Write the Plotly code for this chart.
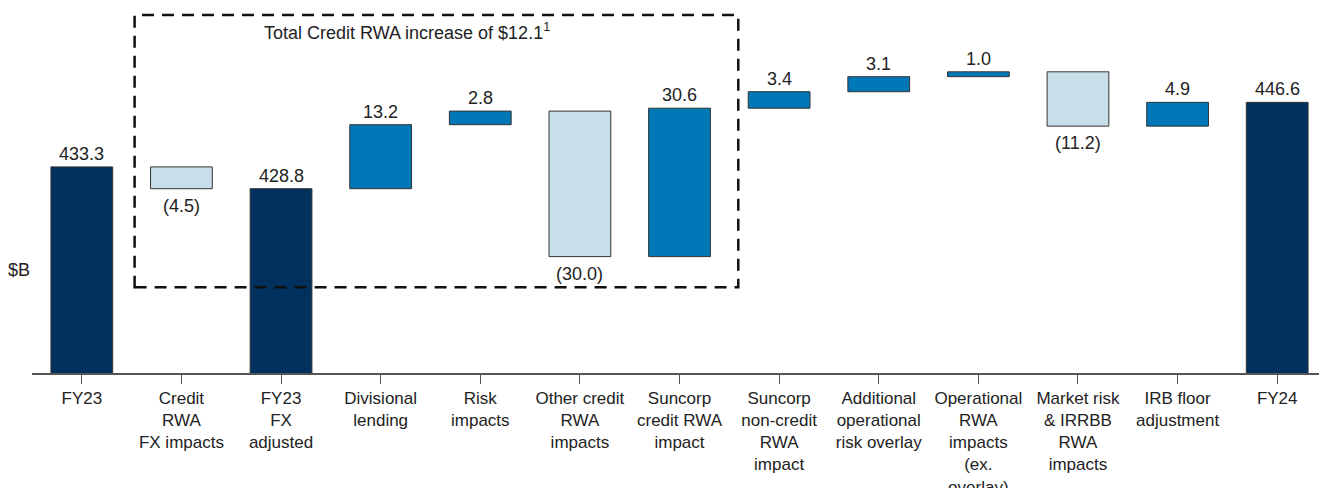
import plotly.graph_objects as go

categories = ["FY23", "Credit<br>RWA<br>FX impacts", "FY23<br>FX<br>adjusted", "Divisional<br>lending",
              "Risk<br>impacts", "Other credit<br>RWA<br>impacts", "Suncorp<br>credit RWA<br>impact",
              "Suncorp<br>non-credit<br>RWA<br>impact", "Additional<br>operational<br>risk overlay",
              "Operational<br>RWA<br>impacts<br>(ex.<br>overlay)", "Market risk<br>& IRRBB<br>RWA<br>impacts",
              "IRB floor<br>adjustment", "FY24"]
values = [433.3, -4.5, 428.8, 13.2, 2.8, -30.0, 30.6, 3.4, 3.1, 1.0, -11.2, 4.9, 446.6]
kinds = ["total", "delta", "total", "delta", "delta", "delta", "delta", "delta", "delta", "delta", "delta", "delta", "total"]

NAVY = "#00315f"
MID = "#0078b7"
LIGHT = "#c8dfea"
FONT = "Liberation Sans, Arial"
TXT = "#222222"

xs = list(range(len(categories)))
bases, ys, colors, texts = [], [], [], []
running = 0.0
for v, k in zip(values, kinds):
    if k == "total":
        bases.append(0)
        ys.append(v)
        colors.append(NAVY)
        running = v
        texts.append(f"{v:.1f}")
    else:
        bases.append(running)
        ys.append(v)
        colors.append(MID if v > 0 else LIGHT)
        running += v
        texts.append(f"{v:.1f}" if v > 0 else f"({abs(v):.1f})")

fig = go.Figure(go.Bar(
    x=xs, y=ys, base=bases, width=0.62,
    marker=dict(color=colors, line=dict(color="#333333", width=1)),
    cliponaxis=False, hoverinfo="skip",
))

# value labels
for x, b, v, t in zip(xs, bases, ys, texts):
    if v >= 0:
        fig.add_annotation(x=x, y=b + v, text=t, yanchor="middle", yshift=13, showarrow=False,
                           font=dict(family=FONT, size=18, color=TXT))
    else:
        fig.add_annotation(x=x, y=b + v, text=t, yanchor="middle", yshift=-17, showarrow=False,
                           font=dict(family=FONT, size=18, color=TXT))

PLOT_H = 365
ymin = 390.8
ymax = ymin + PLOT_H / 4.85

fig.add_shape(type="rect", xref="x", yref="y", x0=0.53, x1=6.59, y0=408.5, y1=464.6,
              line=dict(color="#111111", width=2.5, dash="12px,8px"), fillcolor="rgba(0,0,0,0)")
fig.add_annotation(x=1.81, y=461.2, xref="x", yref="y", xanchor="left",
                   text="Total Credit RWA increase of $12.1<sup>1</sup>",
                   showarrow=False, font=dict(family=FONT, size=18, color=TXT))
fig.add_annotation(x=0, y=ymin + (373 - 270) / 4.85, xref="paper", yref="y", text="$B", xanchor="right",
                   showarrow=False, font=dict(family=FONT, size=18, color=TXT))

fig.update_layout(
    width=1319, height=480,
    margin=dict(l=24, r=0, t=0, b=480 - PLOT_H, autoexpand=False),
    plot_bgcolor="white", paper_bgcolor="white",
    showlegend=False,
    xaxis=dict(tickmode="array", tickvals=xs, ticktext=categories, range=[-0.5, 12.5],
               showline=True, linecolor="#555555", linewidth=1.5,
               ticks="outside", tickson="boundaries", ticklen=9, tickcolor="#555555",
               showgrid=False, zeroline=False,
               tickfont=dict(family=FONT, size=17, color=TXT)),
    yaxis=dict(range=[ymin, ymax], visible=False, showgrid=False, zeroline=False),
)

fig.write_html("out.html")
